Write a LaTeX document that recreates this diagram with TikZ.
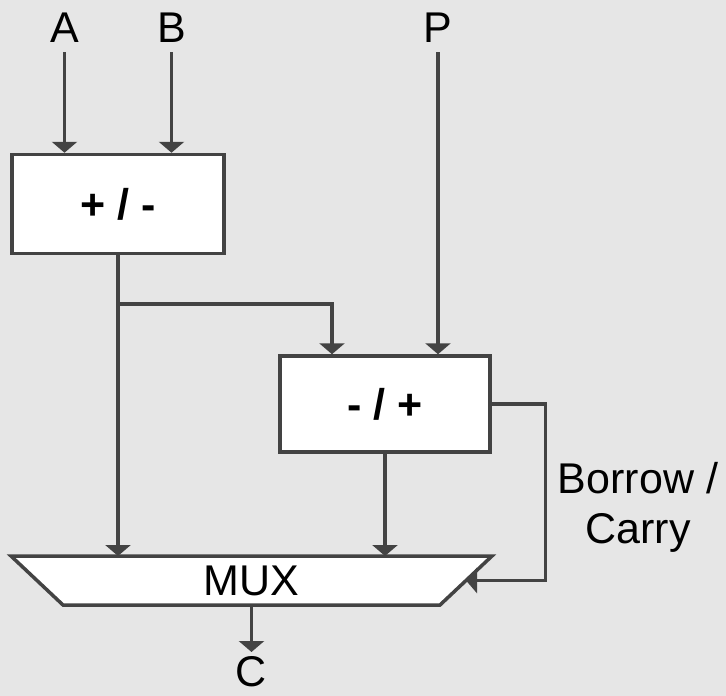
\documentclass[tikz,border=0pt]{standalone}
\usepackage{fontspec}
\setmainfont{Liberation Sans}
\usetikzlibrary{arrows.meta}
\definecolor{bg}{HTML}{E6E6E6}
\definecolor{ln}{HTML}{434343}
\begin{document}
\begin{tikzpicture}[x=1pt,y=-1pt,
  lbl/.style={inner sep=0pt,font=\fontsize{43}{50}\selectfont,text=black},
  blk/.style={draw=ln,line width=3.5pt,fill=white,inner sep=0pt,font=\fontsize{43}{50}\selectfont\bfseries},
  conn/.style={draw=ln,line width=3.5pt,-{Triangle[width=25pt,length=11pt]},line join=miter},
  wire/.style={draw=ln,line width=3.5pt,line join=miter}]
\fill[bg] (0,0) rectangle (726,696);
\useasboundingbox (0,0) rectangle (726,696);
% labels
\node[lbl,anchor=base] (A) at (64.5,42) {A};
\node[lbl,anchor=base] (B) at (171.5,42) {B};
\node[lbl,anchor=base] (P) at (438,42) {P};
\coordinate (Aout) at (64.5,52);
\coordinate (Bout) at (171.5,52);
\coordinate (Pout) at (438,52);
% blocks
\node[blk,minimum width=212pt,minimum height=99pt] (add) at (118,204) {+ / -};
\node[blk,minimum width=210pt,minimum height=96pt] (sub) at (385,404) {- / +};
% mux
\coordinate (mtl) at (11,556);
\coordinate (mtr) at (492,556);
\coordinate (mbr) at (440,605);
\coordinate (mbl) at (63,605);
\draw[wire,fill=white] (mtl) -- (mtr) -- (mbr) -- (mbl) -- cycle;
\node[lbl,anchor=base] (mux) at (251.5,595) {MUX};
\coordinate (muxin) at (466,580.5);
\coordinate (muxout) at (251.5,605);
\node[lbl,anchor=base] (C) at (251.5,686) {C};
\coordinate (Cin) at (251.5,652);
% connectors
\draw[conn] (Aout) -- (Aout |- add.north);
\draw[conn] (Bout) -- (Bout |- add.north);
\draw[conn] (Pout) -- (Pout |- sub.north);
\coordinate (br) at (add.south |- 0,304);
\draw[conn] (add.south) -- (add.south |- mtl);
\draw[conn] (br) -- (332,304) -- (332,0 |- sub.north);
\draw[conn] (sub.south) -- (sub.south |- mtl);
\draw[conn] (sub.east) -- (545.5,404) -- (545.5,580.5) -- (muxin);
\draw[conn] (muxout) -- (Cin);
\node[lbl,align=center,anchor=north] (bc) at (638,462) {Borrow /\\Carry};
\end{tikzpicture}
\end{document}
